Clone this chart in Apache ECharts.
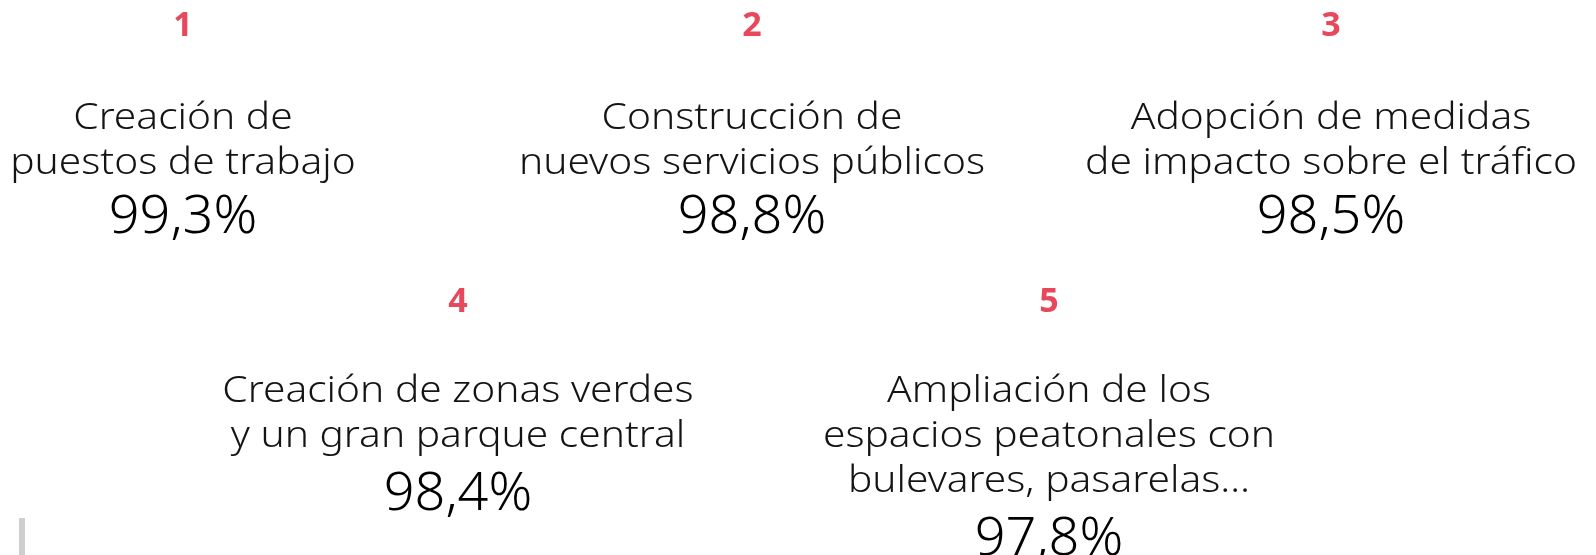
<!DOCTYPE html>
<html>
<head>
<meta charset="utf-8">
<script src="https://cdn.jsdelivr.net/npm/echarts@6/dist/echarts.min.js"></script>
<style>
  html, body { margin: 0; padding: 0; background: #fff; }
  #main { width: 1596px; height: 555px; }
</style>
</head>
<body>
<div id="main"></div>
<script>
// datos
var ranks = ['1', '2', '3', '4', '5'];
var titles = [
  ['Creación de', 'puestos de trabajo'],
  ['Construcción de', 'nuevos servicios públicos'],
  ['Adopción de medidas', 'de impacto sobre el tráfico'],
  ['Creación de zonas verdes', 'y un gran parque central'],
  ['Ampliación de los', 'espacios peatonales con', 'bulevares, pasarelas…']
];
var values = [99.3, 98.8, 98.5, 98.4, 97.8];

// posición de cada bloque (centro x, arriba, primera línea del título, hueco antes del %)
var blocks = [
  { cx: 183, top: 0, titleY: 118, gap: 10 },
  { cx: 752, top: 0, titleY: 118, gap: 10 },
  { cx: 1331, top: 0, titleY: 118, gap: 10 },
  { cx: 458, top: 276, titleY: 391, gap: 14 },
  { cx: 1049, top: 276, titleY: 391, gap: 14 }
];

var FONT = "'Noto Sans', sans-serif";
var red = '#E8485B';
var ink = '#141414';

function fmt(v) {
  return v.toFixed(1).replace('.', ',') + '%';
}

var myChart = echarts.init(document.getElementById('main'));
var elements = [];

ranks.forEach(function (r, i) {
  var b = blocks[i];
  // número
  elements.push({
    type: 'text',
    x: b.cx, y: b.top + 26,
    style: {
      text: r, fill: red,
      font: 'bold 34px ' + FONT,
      align: 'center', verticalAlign: 'middle'
    }
  });
  // título
  titles[i].forEach(function (t, k) {
    elements.push({
      type: 'text',
      x: b.cx, y: b.titleY + k * 45,
      scaleX: 1.1,
      style: {
        text: t, fill: ink,
        font: '300 37px ' + FONT,
        align: 'center', verticalAlign: 'middle'
      }
    });
  });
  // porcentaje
  var pctY = b.titleY + titles[i].length * 45 + b.gap;
  elements.push({
    type: 'text',
    x: b.cx, y: pctY,
    style: {
      text: fmt(values[i]), fill: '#000',
      font: '300 54px ' + FONT,
      align: 'center', verticalAlign: 'middle'
    }
  });
});

// marca gris del escaneo abajo a la izquierda
elements.push({
  type: 'rect',
  shape: { x: 19, y: 518, width: 6, height: 40 },
  style: { fill: '#cfcfcf' }
});

myChart.setOption({
  backgroundColor: '#fff',
  animation: false,
  graphic: { elements: elements }
});
</script>
</body>
</html>
